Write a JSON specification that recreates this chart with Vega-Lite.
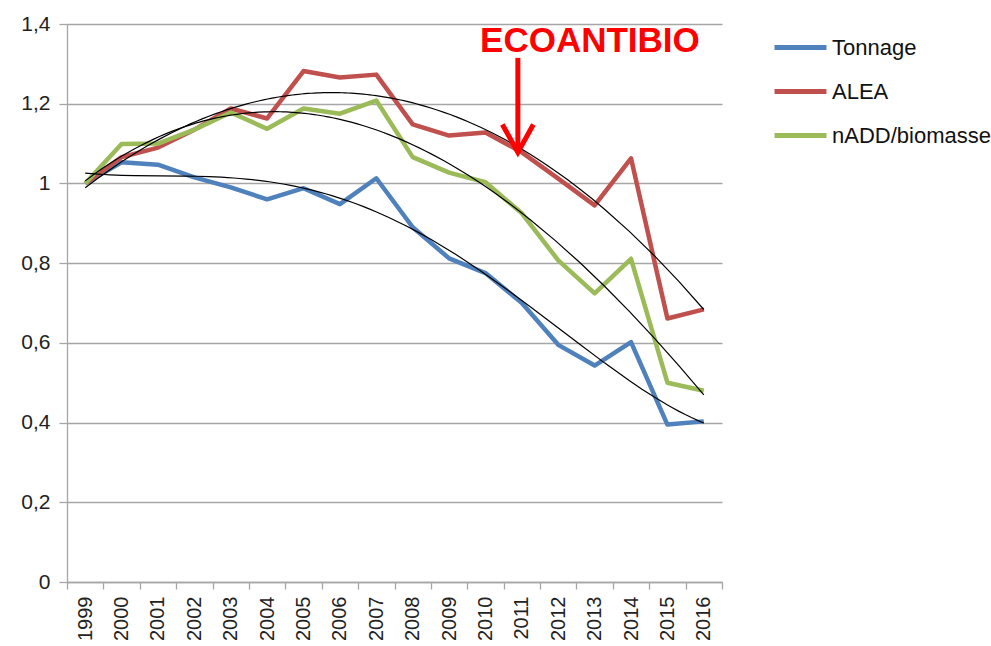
{
  "$schema": "https://vega.github.io/schema/vega-lite/v6.json",
  "width": 655,
  "height": 558,
  "autosize": {"type": "none"},
  "padding": {"left": 67, "top": 24, "right": 269, "bottom": 64},
  "background": "white",
  "config": {"view": {"stroke": null}, "font": "Liberation Sans", "axis": {"labelOverlap": false}},
  "resolve": {"axis": {"x": "independent"}},
  "datasets": {
    "series": [
      {"year": 1999, "series": "Tonnage", "value": 1.0},
      {"year": 2000, "series": "Tonnage", "value": 1.053},
      {"year": 2001, "series": "Tonnage", "value": 1.047},
      {"year": 2002, "series": "Tonnage", "value": 1.015},
      {"year": 2003, "series": "Tonnage", "value": 0.99},
      {"year": 2004, "series": "Tonnage", "value": 0.96},
      {"year": 2005, "series": "Tonnage", "value": 0.988},
      {"year": 2006, "series": "Tonnage", "value": 0.948},
      {"year": 2007, "series": "Tonnage", "value": 1.013},
      {"year": 2008, "series": "Tonnage", "value": 0.89},
      {"year": 2009, "series": "Tonnage", "value": 0.812},
      {"year": 2010, "series": "Tonnage", "value": 0.775},
      {"year": 2011, "series": "Tonnage", "value": 0.70},
      {"year": 2012, "series": "Tonnage", "value": 0.595},
      {"year": 2013, "series": "Tonnage", "value": 0.543},
      {"year": 2014, "series": "Tonnage", "value": 0.602},
      {"year": 2015, "series": "Tonnage", "value": 0.395},
      {"year": 2016, "series": "Tonnage", "value": 0.403},
      {"year": 1999, "series": "ALEA", "value": 1.0},
      {"year": 2000, "series": "ALEA", "value": 1.066},
      {"year": 2001, "series": "ALEA", "value": 1.09},
      {"year": 2002, "series": "ALEA", "value": 1.135},
      {"year": 2003, "series": "ALEA", "value": 1.188},
      {"year": 2004, "series": "ALEA", "value": 1.163},
      {"year": 2005, "series": "ALEA", "value": 1.282},
      {"year": 2006, "series": "ALEA", "value": 1.266},
      {"year": 2007, "series": "ALEA", "value": 1.273},
      {"year": 2008, "series": "ALEA", "value": 1.148},
      {"year": 2009, "series": "ALEA", "value": 1.12},
      {"year": 2010, "series": "ALEA", "value": 1.128},
      {"year": 2011, "series": "ALEA", "value": 1.078},
      {"year": 2012, "series": "ALEA", "value": 1.012},
      {"year": 2013, "series": "ALEA", "value": 0.945},
      {"year": 2014, "series": "ALEA", "value": 1.063},
      {"year": 2015, "series": "ALEA", "value": 0.661},
      {"year": 2016, "series": "ALEA", "value": 0.684},
      {"year": 1999, "series": "nADD/biomasse", "value": 1.0},
      {"year": 2000, "series": "nADD/biomasse", "value": 1.099},
      {"year": 2001, "series": "nADD/biomasse", "value": 1.1},
      {"year": 2002, "series": "nADD/biomasse", "value": 1.135},
      {"year": 2003, "series": "nADD/biomasse", "value": 1.178},
      {"year": 2004, "series": "nADD/biomasse", "value": 1.137},
      {"year": 2005, "series": "nADD/biomasse", "value": 1.188},
      {"year": 2006, "series": "nADD/biomasse", "value": 1.175},
      {"year": 2007, "series": "nADD/biomasse", "value": 1.208},
      {"year": 2008, "series": "nADD/biomasse", "value": 1.066},
      {"year": 2009, "series": "nADD/biomasse", "value": 1.027},
      {"year": 2010, "series": "nADD/biomasse", "value": 1.003},
      {"year": 2011, "series": "nADD/biomasse", "value": 0.925},
      {"year": 2012, "series": "nADD/biomasse", "value": 0.807},
      {"year": 2013, "series": "nADD/biomasse", "value": 0.724},
      {"year": 2014, "series": "nADD/biomasse", "value": 0.811},
      {"year": 2015, "series": "nADD/biomasse", "value": 0.5},
      {"year": 2016, "series": "nADD/biomasse", "value": 0.48}
    ],
    "note": [{"year": 2012.87, "value": 1.33, "label": "ECOANTIBIO"}],
    "arrow": [{"year": 2010.89, "top": 1.315, "tip": 1.078}]
  },
  "layer": [
    {
      "data": {"name": "series"},
      "mark": {"type": "line", "strokeWidth": 4.5, "strokeJoin": "round"},
      "encoding": {
        "x": {
          "field": "year", "type": "quantitative",
          "scale": {"domain": [1998.5, 2016.5], "nice": false, "zero": false},
          "axis": {
            "title": null,
            "orient": "bottom",
            "values": [1999, 2000, 2001, 2002, 2003, 2004, 2005, 2006, 2007, 2008, 2009, 2010, 2011, 2012, 2013, 2014, 2015, 2016],
            "tickCount": 40,
            "format": "d",
            "labelOverlap": false,
            "labelAngle": -90,
            "labelFontSize": 20,
            "labelColor": "#222222",
            "labelPadding": 14,
            "ticks": false,
            "domainColor": "#A6A6A6",
            "domainWidth": 1.3,
            "grid": false
          }
        },
        "y": {
          "field": "value", "type": "quantitative",
          "scale": {"domain": [0, 1.4], "nice": false},
          "axis": {
            "title": null,
            "values": [0, 0.2, 0.4, 0.6, 0.8, 1, 1.2, 1.4],
            "format": "~g",
            "labelExpr": "replace(datum.label, '.', ',')",
            "labelFontSize": 21,
            "labelColor": "#222222",
            "labelPadding": 9,
            "tickSize": 8,
            "tickColor": "#A6A6A6",
            "tickWidth": 1.3,
            "domainColor": "#A6A6A6",
            "domainWidth": 1.3,
            "grid": true,
            "gridColor": "#A6A6A6",
            "gridWidth": 1.3
          }
        },
        "color": {
          "field": "series", "type": "nominal",
          "scale": {"domain": ["Tonnage", "ALEA", "nADD/biomasse"], "range": ["#4F81BD", "#C0504D", "#9BBB59"]},
          "legend": {
            "title": null,
            "orient": "none",
            "legendX": 705,
            "legendY": -5,
            "symbolType": "stroke",
            "symbolSize": 2700,
            "symbolStrokeWidth": 5,
            "labelFontSize": 22,
            "labelColor": "#111111",
            "labelOffset": 3,
            "rowPadding": 4
          }
        }
      }
    },
    {
      "data": {"name": "series"},
      "transform": [
        {"filter": "datum.series === 'Tonnage'"},
        {"regression": "value", "on": "year", "method": "poly", "order": 4, "extent": [1999, 2016]}
      ],
      "mark": {"type": "line", "color": "black", "strokeWidth": 1.2},
      "encoding": {
        "x": {"field": "year", "type": "quantitative", "axis": null},
        "y": {"field": "value", "type": "quantitative"}
      }
    },
    {
      "data": {"name": "series"},
      "transform": [
        {"filter": "datum.series === 'ALEA'"},
        {"regression": "value", "on": "year", "method": "poly", "order": 2, "extent": [1999, 2016]}
      ],
      "mark": {"type": "line", "color": "black", "strokeWidth": 1.2},
      "encoding": {
        "x": {"field": "year", "type": "quantitative", "axis": null},
        "y": {"field": "value", "type": "quantitative"}
      }
    },
    {
      "data": {"name": "series"},
      "transform": [
        {"filter": "datum.series === 'nADD/biomasse'"},
        {"regression": "value", "on": "year", "method": "poly", "order": 3, "extent": [1999, 2016]}
      ],
      "mark": {"type": "line", "color": "black", "strokeWidth": 1.2},
      "encoding": {
        "x": {"field": "year", "type": "quantitative", "axis": null},
        "y": {"field": "value", "type": "quantitative"}
      }
    },
    {
      "data": {"name": "arrow"},
      "mark": {"type": "rule", "color": "#FF0000", "strokeWidth": 5},
      "encoding": {
        "x": {"field": "year", "type": "quantitative", "axis": null},
        "y": {"field": "top", "type": "quantitative"},
        "y2": {"field": "tip"}
      }
    },
    {
      "data": {"name": "arrow"},
      "mark": {"type": "point", "shape": "M-1,-1.8L0,0L1,-1.8", "size": 961, "filled": false, "stroke": "#FF0000", "strokeWidth": 5, "opacity": 1},
      "encoding": {
        "x": {"field": "year", "type": "quantitative", "axis": null},
        "y": {"field": "tip", "type": "quantitative"}
      }
    },
    {
      "data": {"name": "note"},
      "mark": {"type": "text", "font": "Liberation Sans", "fontWeight": "bold", "fontSize": 35, "color": "#FF0000", "align": "center", "baseline": "alphabetic"},
      "encoding": {
        "x": {
          "field": "year", "type": "quantitative",
          "axis": {
            "title": null,
            "orient": "bottom",
            "values": [1998.5, 1999.5, 2000.5, 2001.5, 2002.5, 2003.5, 2004.5, 2005.5, 2006.5, 2007.5, 2008.5, 2009.5, 2010.5, 2011.5, 2012.5, 2013.5, 2014.5, 2015.5, 2016.5],
            "tickCount": 40,
            "labels": false,
            "domain": false,
            "grid": false,
            "ticks": true,
            "tickSize": 7,
            "tickColor": "#A6A6A6",
            "tickWidth": 1.3
          }
        },
        "y": {"field": "value", "type": "quantitative"},
        "text": {"field": "label"}
      }
    }
  ]
}
